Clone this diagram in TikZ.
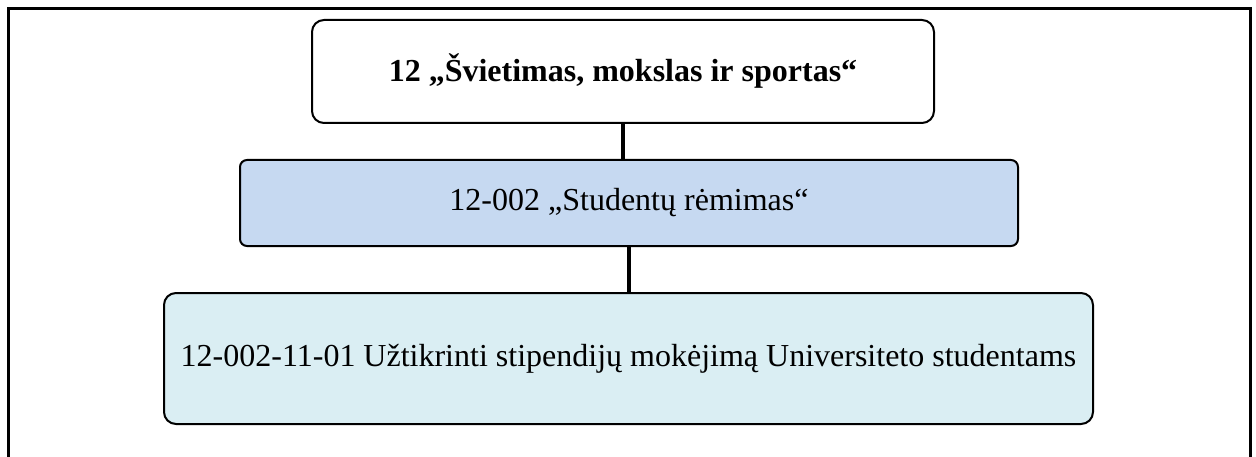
\documentclass[tikz,border=0pt]{standalone}
\usepackage{fontspec}
\setmainfont{Liberation Serif}
\definecolor{boxblue}{HTML}{C6D9F1}
\definecolor{boxaqua}{HTML}{DAEEF3}
\begin{document}
\begin{tikzpicture}[x=1pt,y=1pt,
  boxbase/.style={draw=black, line width=2pt, inner sep=0pt, align=center,
    font=\fontsize{32}{38}\selectfont},
  link/.style={line width=4pt}]
\useasboundingbox (0,0) rectangle (1256,456);
\draw[line width=3pt] (8,-10) -- (8,447) -- (1250,447) -- (1250,-10);
\node[boxbase, rounded corners=12pt, fill=white, minimum width=622pt, minimum height=103pt,
  font=\fontsize{32}{38}\selectfont\bfseries] (top) at (623,384.5) {12 „Švietimas, mokslas ir sportas“};
\node[boxbase, rounded corners=7pt, fill=boxblue, minimum width=778pt, minimum height=86pt] (mid) at (629,253) {12-002 „Studentų rėmimas“};
\node[boxbase, rounded corners=12pt, fill=boxaqua, minimum width=929pt, minimum height=131pt] (bot) at (628.5,97.5) {12-002-11-01 Užtikrinti stipendijų mokėjimą Universiteto studentams};
\draw[link] (top.south -| 623,0) -- (mid.north -| 623,0);
\draw[link] (mid.south -| 629,0) -- (bot.north -| 629,0);
\end{tikzpicture}
\end{document}
